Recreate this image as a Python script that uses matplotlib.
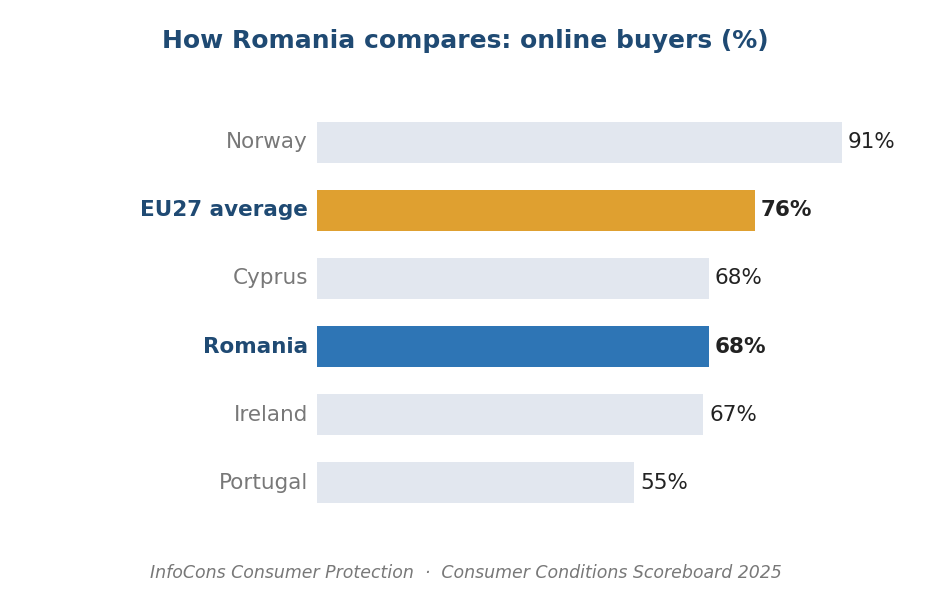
import matplotlib
matplotlib.use("Agg")
import matplotlib.pyplot as plt

categories = ["Norway", "EU27 average", "Cyprus", "Romania", "Ireland", "Portugal"]
values = [91, 76, 68, 68, 67, 55]
highlight = ["", "eu", "", "ro", "", ""]

GRAY_BAR = "#e2e7ef"
ORANGE = "#dfa030"
BLUE = "#2e75b5"
TITLE_C = "#1f4a73"
LABEL_GRAY = "#787878"
VALUE_C = "#222222"

fig = plt.figure(figsize=(9.31, 5.89), dpi=100)
ax = fig.add_axes([0.3405, 0.1225, 0.6195, 0.694])

ypos = list(range(len(categories)))[::-1]
colors = []
for h in highlight:
    colors.append(ORANGE if h == "eu" else BLUE if h == "ro" else GRAY_BAR)

ax.barh(ypos, values, height=0.6, color=colors)
ax.set_xlim(0, 100)
ax.set_ylim(-0.5, len(categories) - 0.5)
for s in ax.spines.values():
    s.set_visible(False)
ax.set_xticks([])
ax.set_yticks([])

for y, v, c, h in zip(ypos, values, categories, highlight):
    bold = h != ""
    ax.text(v + 1.0, y, f"{v}%", va="center", ha="left", fontsize=15.5,
            color=VALUE_C, fontweight="bold" if bold else "normal")
    ax.text(-1.6, y, c, va="center", ha="right", fontsize=15.5,
            color=TITLE_C if bold else LABEL_GRAY,
            fontweight="bold" if bold else "normal")

fig.text(0.5, 0.931, "How Romania compares: online buyers (%)", ha="center",
         va="center", fontsize=18, fontweight="bold", color=TITLE_C)
fig.text(0.5, 0.028, "InfoCons Consumer Protection  \u00b7  Consumer Conditions Scoreboard 2025",
         ha="center", va="center", fontsize=12.5, style="italic", color=LABEL_GRAY)

fig.savefig("out.png", dpi=100)
